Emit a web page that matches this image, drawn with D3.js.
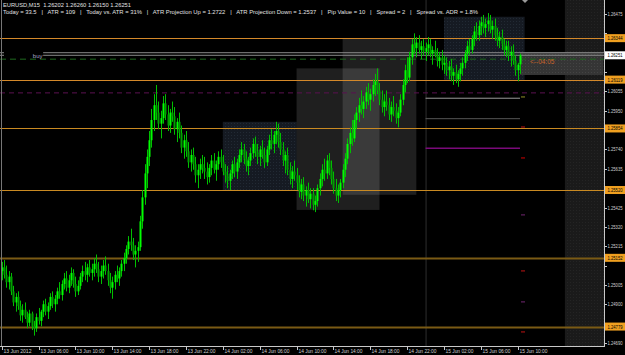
<!DOCTYPE html>
<html>
<head>
<meta charset="utf-8">
<script src="https://cdn.jsdelivr.net/npm/d3@7"></script>
<style>
  html, body { margin: 0; padding: 0; background: #000; }
  svg { display: block; }
  text { font-family: "Liberation Sans", Arial, sans-serif; }
</style>
</head>
<body>
<div id="chart"></div>
<script>
// M15 bars, [open, high, low, close]
const day13 = [
  [1.2508,1.2513,1.2503,1.2510],[1.2510,1.2514,1.2504,1.2506],[1.2506,1.2511,1.2499,1.2502],[1.2502,1.2508,1.2498,1.2505],
  [1.2505,1.2507,1.2495,1.2497],[1.2497,1.2500,1.2489,1.2491],[1.2491,1.2496,1.2486,1.2494],[1.2494,1.2497,1.2487,1.2489],
  [1.2489,1.2492,1.2481,1.2484],[1.2484,1.2490,1.2480,1.2487],[1.2487,1.2491,1.2482,1.2483],[1.2483,1.2486,1.2477,1.2480],
  [1.2480,1.2487,1.2478,1.2485],[1.2485,1.2486,1.2476,1.2478],[1.2478,1.2481,1.2473,1.2477],[1.2477,1.2485,1.2475,1.2483],
  [1.2483,1.2488,1.2479,1.2481],[1.2481,1.2487,1.2478,1.2486],[1.2486,1.2492,1.2483,1.2490],[1.2490,1.2493,1.2484,1.2486],
  [1.2486,1.2491,1.2482,1.2489],[1.2489,1.2496,1.2487,1.2494],[1.2494,1.2497,1.2488,1.2490],[1.2490,1.2495,1.2486,1.2493],
  [1.2493,1.2499,1.2490,1.2497],[1.2497,1.2502,1.2493,1.2495],[1.2495,1.2503,1.2492,1.2501],[1.2501,1.2507,1.2498,1.2504],
  [1.2504,1.2508,1.2497,1.2499],[1.2499,1.2506,1.2496,1.2503],[1.2503,1.2510,1.2500,1.2507],[1.2507,1.2509,1.2499,1.2501],
  [1.2501,1.2505,1.2494,1.2497],[1.2497,1.2503,1.2495,1.2500],[1.2500,1.2507,1.2498,1.2505],[1.2505,1.2511,1.2502,1.2508],
  [1.2508,1.2513,1.2503,1.2506],[1.2506,1.2512,1.2502,1.2510],[1.2510,1.2514,1.2505,1.2507],[1.2507,1.2512,1.2503,1.2509],
  [1.2509,1.2515,1.2505,1.2512],[1.2512,1.2517,1.2507,1.2509],[1.2509,1.2513,1.2502,1.2505],[1.2505,1.2511,1.2501,1.2508],
  [1.2508,1.2514,1.2504,1.2511],[1.2511,1.2516,1.2506,1.2508],[1.2508,1.2512,1.2500,1.2503],[1.2503,1.2507,1.2496,1.2499],
  [1.2499,1.2505,1.2493,1.2502],[1.2502,1.2508,1.2498,1.2506],[1.2506,1.2511,1.2502,1.2504],[1.2504,1.2510,1.2500,1.2508],
  [1.2508,1.2514,1.2505,1.2512],[1.2512,1.2518,1.2508,1.2515],[1.2515,1.2522,1.2512,1.2520],[1.2520,1.2527,1.2517,1.2524],
  [1.2524,1.2531,1.2519,1.2522],[1.2522,1.2526,1.2514,1.2517],[1.2517,1.2522,1.2510,1.2519],[1.2519,1.2524,1.2513,1.2521],
  [1.2521,1.2538,1.2519,1.2535],[1.2535,1.2552,1.2531,1.2548],[1.2548,1.2566,1.2544,1.2561],[1.2561,1.2574,1.2553,1.2570],
  [1.2570,1.2584,1.2565,1.2579],[1.2579,1.2596,1.2575,1.2590],[1.2590,1.2604,1.2584,1.2598],[1.2598,1.2609,1.2590,1.2594],
  [1.2594,1.2600,1.2585,1.2588],[1.2588,1.2595,1.2580,1.2591],[1.2591,1.2603,1.2588,1.2599],[1.2599,1.2604,1.2590,1.2593],
  [1.2593,1.2598,1.2584,1.2587],[1.2587,1.2596,1.2583,1.2594],[1.2594,1.2600,1.2589,1.2592],[1.2592,1.2597,1.2582,1.2585],
  [1.2585,1.2591,1.2578,1.2589],[1.2589,1.2594,1.2580,1.2583],[1.2583,1.2587,1.2572,1.2575],[1.2575,1.2582,1.2569,1.2579],
  [1.2579,1.2584,1.2570,1.2573],[1.2573,1.2578,1.2564,1.2567],[1.2567,1.2574,1.2562,1.2571],[1.2571,1.2575,1.2563,1.2566],
  [1.2566,1.2570,1.2556,1.2560],[1.2560,1.2566,1.2553,1.2563],[1.2563,1.2569,1.2558,1.2566],[1.2566,1.2571,1.2561,1.2564]
];
const day14 = [
  [1.2564,1.2570,1.2558,1.2562],[1.2562,1.2567,1.2555,1.2559],[1.2559,1.2566,1.2556,1.2564],[1.2564,1.2571,1.2560,1.2568],
  [1.2568,1.2572,1.2561,1.2563],[1.2563,1.2568,1.2557,1.2566],[1.2566,1.2573,1.2563,1.2570],[1.2570,1.2574,1.2564,1.2567],
  [1.2567,1.2571,1.2560,1.2562],[1.2562,1.2566,1.2556,1.2560],[1.2560,1.2565,1.2553,1.2557],[1.2557,1.2563,1.2552,1.2561],
  [1.2561,1.2568,1.2558,1.2566],[1.2566,1.2570,1.2559,1.2562],[1.2562,1.2569,1.2558,1.2567],[1.2567,1.2574,1.2564,1.2571],
  [1.2571,1.2578,1.2567,1.2574],[1.2574,1.2577,1.2566,1.2569],[1.2569,1.2573,1.2562,1.2565],[1.2565,1.2570,1.2560,1.2568],
  [1.2568,1.2575,1.2565,1.2572],[1.2572,1.2580,1.2569,1.2577],[1.2577,1.2581,1.2570,1.2573],[1.2573,1.2577,1.2566,1.2570],
  [1.2570,1.2576,1.2565,1.2574],[1.2574,1.2579,1.2569,1.2571],[1.2571,1.2575,1.2564,1.2567],[1.2567,1.2576,1.2565,1.2574],
  [1.2574,1.2582,1.2571,1.2579],[1.2579,1.2585,1.2574,1.2577],[1.2577,1.2584,1.2572,1.2582],[1.2582,1.2589,1.2577,1.2584],
  [1.2584,1.2588,1.2575,1.2578],[1.2578,1.2583,1.2571,1.2574],[1.2574,1.2578,1.2565,1.2568],[1.2568,1.2573,1.2561,1.2571],
  [1.2571,1.2575,1.2560,1.2563],[1.2563,1.2567,1.2555,1.2558],[1.2558,1.2565,1.2553,1.2562],[1.2562,1.2568,1.2557,1.2560],
  [1.2560,1.2564,1.2552,1.2556],[1.2556,1.2560,1.2548,1.2551],[1.2551,1.2558,1.2547,1.2555],[1.2555,1.2559,1.2546,1.2549],
  [1.2549,1.2554,1.2543,1.2552],[1.2552,1.2556,1.2545,1.2547],[1.2547,1.2553,1.2542,1.2550],[1.2550,1.2553,1.2541,1.2544],
  [1.2544,1.2549,1.2540,1.2546],[1.2546,1.2555,1.2543,1.2553],[1.2553,1.2561,1.2549,1.2558],[1.2558,1.2566,1.2554,1.2563],
  [1.2563,1.2569,1.2557,1.2561],[1.2561,1.2571,1.2558,1.2568],[1.2568,1.2572,1.2560,1.2564],[1.2564,1.2568,1.2555,1.2558],
  [1.2558,1.2562,1.2550,1.2553],[1.2553,1.2558,1.2546,1.2549],[1.2549,1.2555,1.2545,1.2552],[1.2552,1.2558,1.2548,1.2556],
  [1.2556,1.2566,1.2553,1.2563],[1.2563,1.2572,1.2559,1.2569],[1.2569,1.2580,1.2566,1.2577],[1.2577,1.2586,1.2572,1.2583],
  [1.2583,1.2590,1.2576,1.2580],[1.2580,1.2593,1.2578,1.2590],[1.2590,1.2597,1.2585,1.2594],[1.2594,1.2602,1.2589,1.2598],
  [1.2598,1.2606,1.2593,1.2596],[1.2596,1.2603,1.2591,1.2600],[1.2600,1.2608,1.2596,1.2605],[1.2605,1.2610,1.2598,1.2601],
  [1.2601,1.2607,1.2595,1.2604],[1.2604,1.2612,1.2600,1.2609],[1.2609,1.2615,1.2603,1.2611],[1.2611,1.2618,1.2604,1.2606],
  [1.2606,1.2610,1.2598,1.2601],[1.2601,1.2606,1.2594,1.2597],[1.2597,1.2604,1.2592,1.2600],[1.2600,1.2606,1.2595,1.2598],
  [1.2598,1.2602,1.2590,1.2593],[1.2593,1.2600,1.2589,1.2597],[1.2597,1.2603,1.2592,1.2595],[1.2595,1.2599,1.2588,1.2591],
  [1.2591,1.2597,1.2586,1.2594],[1.2594,1.2604,1.2592,1.2601],[1.2601,1.2612,1.2598,1.2609],[1.2609,1.2620,1.2605,1.2617],
  [1.2617,1.2624,1.2610,1.2613],[1.2613,1.2627,1.2611,1.2624],[1.2624,1.2634,1.2620,1.2631],[1.2631,1.2637,1.2626,1.2629],
  [1.2629,1.2635,1.2624,1.2632],[1.2632,1.2636,1.2626,1.2628],[1.2628,1.2633,1.2623,1.2630],[1.2630,1.2634,1.2625,1.2627]
];
const day15 = [
  [1.2627,1.2632,1.2622,1.2629],[1.2629,1.2635,1.2625,1.2631],[1.2631,1.2634,1.2624,1.2626],[1.2626,1.2630,1.2620,1.2628],
  [1.2628,1.2633,1.2624,1.2625],[1.2625,1.2629,1.2619,1.2622],[1.2622,1.2627,1.2618,1.2624],[1.2624,1.2628,1.2617,1.2620],
  [1.2620,1.2625,1.2615,1.2621],[1.2621,1.2624,1.2614,1.2617],[1.2617,1.2622,1.2612,1.2619],[1.2619,1.2623,1.2611,1.2614],
  [1.2614,1.2618,1.2609,1.2616],[1.2616,1.2620,1.2610,1.2612],[1.2612,1.2617,1.2608,1.2615],[1.2615,1.2621,1.2611,1.2618],
  [1.2618,1.2624,1.2614,1.2621],[1.2621,1.2628,1.2618,1.2626],[1.2626,1.2633,1.2622,1.2630],[1.2630,1.2634,1.2625,1.2628],
  [1.2628,1.2636,1.2626,1.2634],[1.2634,1.2641,1.2630,1.2638],[1.2638,1.2643,1.2633,1.2636],[1.2636,1.2644,1.2633,1.2641],
  [1.2641,1.2646,1.2636,1.2643],[1.2643,1.2647,1.2637,1.2640],[1.2640,1.2645,1.2635,1.2642],[1.2642,1.2648,1.2638,1.2644],
  [1.2644,1.2647,1.2637,1.2639],[1.2639,1.2644,1.2634,1.2641],[1.2641,1.2645,1.2633,1.2636],[1.2636,1.2640,1.2630,1.2633],
  [1.2633,1.2638,1.2629,1.2635],[1.2635,1.2639,1.2628,1.2631],[1.2631,1.2634,1.2625,1.2628],[1.2628,1.2633,1.2624,1.2630],
  [1.2630,1.2633,1.2622,1.2625],[1.2625,1.2630,1.2619,1.2627],[1.2627,1.2631,1.2620,1.2622],[1.2622,1.2625,1.2614,1.2617],
  [1.2617,1.2621,1.2611,1.2620],[1.26202,1.26260,1.26150,1.26251]
];

const timeLabels = ["13 Jun 2012","13 Jun 06:00","13 Jun 10:00","13 Jun 14:00","13 Jun 18:00","13 Jun 22:00",
  "14 Jun 02:00","14 Jun 06:00","14 Jun 10:00","14 Jun 14:00","14 Jun 18:00","14 Jun 22:00",
  "15 Jun 02:00","15 Jun 06:00","15 Jun 10:00"];
const priceTicks = [1.26475,1.26370,1.26265,1.26160,1.26055,1.25950,1.25845,1.25740,1.25635,
  1.25530,1.25425,1.25320,1.25215,1.25110,1.25005,1.24900,1.24795,1.24690];

// horizontal levels (orange)
const levelPrices = [1.26344,1.26119,1.25854,1.25520,1.25152,1.24779];
const levelColors = ["#d4892a","#d4892a","#c98a22","#c98a22","#7a5a14","#7a5a14"];

// session boxes: start bar, end bar, high, low
const boxStart = [96,128,148,192];
const boxEnd   = [128,164,180,227];
const boxHigh  = [1.25890,1.26180,1.26342,1.26460];
const boxLow   = [1.25520,1.25412,1.25494,1.26117];

// short projection lines from 15 Jun 00:00
const projPrices = [1.26018,1.25907,1.25747];
const projColors = ["#9a9a9a","#555555","#7a0a7a"];
const markerPrices = [1.26025,1.25862,1.25694,1.25385,1.25081,1.24913,1.24750];
const markerColors = ["#7a7a20","#a01010","#b00000","#602060","#a01010","#602060","#a01010"];

const bidPrice = 1.26251, askPrice = 1.26265, buyPrice = 1.26230, pivotPrice = 1.26047;

const header1 = "EURUSD,M15  1.26202 1.26260 1.26150 1.26251";
const header2 = "Today = 33.5   |   ATR = 109   |   Today vs. ATR = 31%   |   ATR Projection Up = 1.2722   |   ATR Projection Down = 1.2537   |   Pip Value = 10   |   Spread = 2   |   Spread vs. ADR = 1.8%";

const W = 625, H = 355, plotR = 604, plotB = 346;

const svg = d3.select("#chart").append("svg")
    .attr("width", W).attr("height", H);

const defs = svg.append("defs");
function dots(id, base, dot) {
    const p = defs.append("pattern").attr("id", id)
        .attr("width", 3).attr("height", 3).attr("patternUnits", "userSpaceOnUse");
    p.append("rect").attr("width", 3).attr("height", 3).attr("fill", base);
    p.append("rect").attr("width", 1).attr("height", 1).attr("fill", dot);
}
dots("pA", "#151a22", "#222a34");
dots("pFut", "#1a1a1a", "#242424");
dots("pE", "#353535", "#444");

svg.append("rect").attr("width", W).attr("height", H).attr("fill", "#000");

const bars = day13.concat(day14, day15);
const x = d3.scaleLinear().domain([0, 224]).range([1.7, 517.7]);
const y = d3.scaleLinear().domain([1.24679, 1.26551]).range([345, 0]);

const plot = svg.append("g");

// future (shifted) area
plot.append("rect")
    .attr("x", x(244.5)).attr("y", 0)
    .attr("width", plotR - x(244.5)).attr("height", plotB)
    .attr("fill", "url(#pFut)");

// session boxes
boxStart.forEach((s, i) => {
    const light = (i === 1 || i === 2);
    plot.append("rect")
        .attr("x", x(s)).attr("y", y(boxHigh[i]))
        .attr("width", x(boxEnd[i]) - x(s))
        .attr("height", y(boxLow[i]) - y(boxHigh[i]))
        .attr("fill", light ? "#ffffff" : "url(#pA)")
        .attr("fill-opacity", light ? 0.12 : 1);
});

// day separator 15 Jun
plot.append("line")
    .attr("x1", x(184) + 0.5).attr("x2", x(184) + 0.5)
    .attr("y1", 0).attr("y2", plotB)
    .attr("stroke", "#2e2e2e");

// pivot dashed line
plot.append("line")
    .attr("x1", 0).attr("x2", plotR)
    .attr("y1", y(pivotPrice)).attr("y2", y(pivotPrice))
    .attr("stroke", "#5a1050").attr("stroke-dasharray", "5,4");

// level lines
levelPrices.forEach((p, i) => {
    plot.append("line")
        .attr("x1", 0).attr("x2", plotR)
        .attr("y1", Math.round(y(p)) + 0.5).attr("y2", Math.round(y(p)) + 0.5)
        .attr("stroke", levelColors[i])
        .attr("stroke-width", i >= 4 ? 2 : 1);
});

// candle timer box
plot.append("rect")
    .attr("x", x(225)).attr("y", y(1.26269))
    .attr("width", plotR - 1 - x(225)).attr("height", y(1.26144) - y(1.26269))
    .attr("fill", "url(#pE)");

// bid/ask/buy lines
[askPrice, bidPrice].forEach(p => {
    plot.append("line")
        .attr("x1", x(18)).attr("x2", plotR)
        .attr("y1", y(p)).attr("y2", y(p))
        .attr("stroke", "#8a8a8a");
    plot.append("line")
        .attr("x1", 0).attr("x2", 4)
        .attr("y1", y(p)).attr("y2", y(p))
        .attr("stroke", "#8a8a8a");
});
plot.append("line")
    .attr("x1", 0).attr("x2", plotR)
    .attr("y1", y(buyPrice)).attr("y2", y(buyPrice))
    .attr("stroke", "#1f6a1f").attr("stroke-dasharray", "6,4");
plot.append("text")
    .attr("x", x(13.5)).attr("y", y(buyPrice) - 1)
    .attr("font-size", 6).attr("fill", "#a8a8c8")
    .text("buy");

// projection lines
projPrices.forEach((p, i) => {
    plot.append("line")
        .attr("x1", x(184)).attr("x2", x(225))
        .attr("y1", y(p)).attr("y2", y(p))
        .attr("stroke", projColors[i]).attr("stroke-width", i === 2 ? 1.5 : 1);
});
markerPrices.forEach((p, i) => {
    plot.append("line")
        .attr("x1", x(225) + 1).attr("x2", x(225) + 5)
        .attr("y1", y(p)).attr("y2", y(p))
        .attr("stroke", markerColors[i]).attr("stroke-width", 1.2);
});

// candles
const cg = plot.append("g");
bars.forEach((b, i) => {
    const cx = Math.round(x(i)) + 0.5;
    cg.append("line")
        .attr("x1", cx).attr("x2", cx)
        .attr("y1", y(b[1])).attr("y2", y(b[2]))
        .attr("stroke", "#00c000").attr("stroke-width", 1);
    const up = b[3] >= b[0];
    const top = y(Math.max(b[0], b[3])), bot = y(Math.min(b[0], b[3]));
    cg.append("rect")
        .attr("x", cx - 1).attr("y", top)
        .attr("width", 2).attr("height", Math.max(1, bot - top))
        .attr("fill", up ? "#00ff00" : "#00a000");
});

plot.append("text")
    .attr("x", x(225) + 10).attr("y", y(1.26251) + 9)
    .attr("font-size", 6.5).attr("fill", "#c8642a")
    .text("<--04:05");

// frame
svg.append("line").attr("x1", plotR + 0.5).attr("x2", plotR + 0.5)
    .attr("y1", 0).attr("y2", plotB + 1).attr("stroke", "#c8c8c8");
svg.append("line").attr("x1", 1.5).attr("x2", 1.5)
    .attr("y1", 0).attr("y2", plotB).attr("stroke", "#777");
svg.append("line").attr("x1", 0).attr("x2", plotR)
    .attr("y1", plotB + 0.5).attr("y2", plotB + 0.5).attr("stroke", "#c8c8c8");

// price axis: plain ticks hidden where a level label sits on top
const labelPrices = levelPrices.concat([bidPrice]);
const pa = svg.append("g");
priceTicks.forEach(p => {
    pa.append("line").attr("x1", plotR).attr("x2", plotR + 3)
        .attr("y1", Math.round(y(p)) + 0.5).attr("y2", Math.round(y(p)) + 0.5)
        .attr("stroke", "#c8c8c8");
    const covered = labelPrices.some(q => Math.abs(y(q) - y(p)) < 8);
    if (covered) return;
    pa.append("text").attr("x", plotR + 3.5).attr("y", y(p) + 2)
        .attr("font-size", 5).attr("fill", "#d0d0d0")
        .attr("textLength", 15).attr("lengthAdjust", "spacingAndGlyphs")
        .text(p.toFixed(5));
});
function priceLabel(p, bg) {
    pa.append("rect").attr("x", plotR + 1).attr("y", y(p) - 4)
        .attr("width", W - plotR).attr("height", 8).attr("fill", bg);
    pa.append("text").attr("x", plotR + 3.5).attr("y", y(p) + 2)
        .attr("font-size", 5).attr("fill", "#000")
        .attr("textLength", 15).attr("lengthAdjust", "spacingAndGlyphs")
        .text(p.toFixed(5));
}
levelPrices.forEach(p => priceLabel(p, "#f0a020"));
priceLabel(bidPrice, "#ffffff");

// time axis
const ta = svg.append("g");
timeLabels.forEach((t, k) => {
    const tx = Math.round(x(k * 16)) + 0.5;
    ta.append("line").attr("x1", tx).attr("x2", tx)
        .attr("y1", plotB).attr("y2", plotB + 4).attr("stroke", "#c8c8c8");
    ta.append("text").attr("x", tx + 1).attr("y", 353)
        .attr("font-size", 5.5).attr("fill", "#d0d0d0")
        .attr("textLength", 28).attr("lengthAdjust", "spacingAndGlyphs")
        .text(t);
});

// shift marker
svg.append("path").attr("d", "M522,0 L528,0 L525,3 Z").attr("fill", "#999");

// header
svg.append("text").attr("x", 3).attr("y", 7)
    .attr("font-size", 6).attr("fill", "#e0e0e0")
    .attr("textLength", 128).attr("lengthAdjust", "spacingAndGlyphs")
    .attr("xml:space", "preserve")
    .text(header1);
svg.append("text").attr("x", 3).attr("y", 13.5)
    .attr("font-size", 6).attr("fill", "#e0e0e0")
    .attr("textLength", 475).attr("lengthAdjust", "spacingAndGlyphs")
    .attr("xml:space", "preserve")
    .text(header2);
</script>
</body>
</html>
